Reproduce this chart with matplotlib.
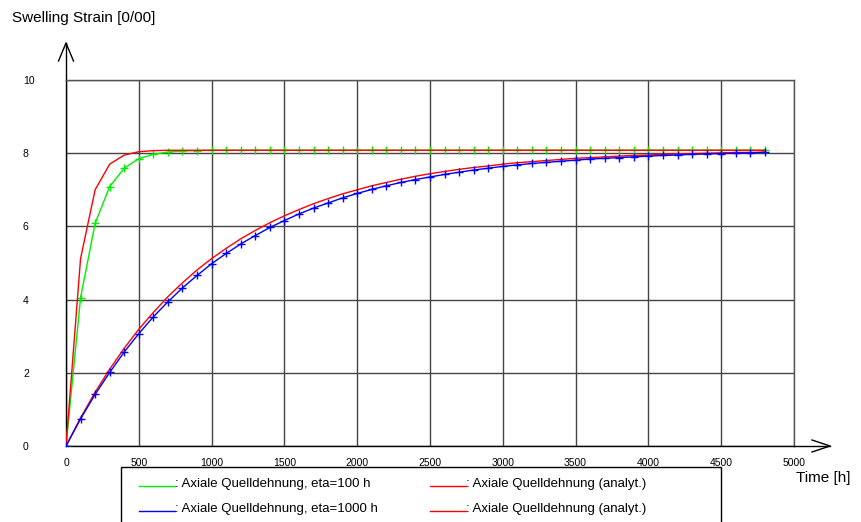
import numpy as np
import matplotlib
matplotlib.use('Agg')
import matplotlib.pyplot as plt
from matplotlib.lines import Line2D
from matplotlib.patches import Rectangle

plt.rcParams['font.family'] = ['Liberation Sans', 'DejaVu Sans']

# Zeitschritte [h]
t = np.arange(0, 4900, 100)

# eta = 100 h, numerisch
eps_100 = [0.00, 4.05, 6.08, 7.09, 7.59, 7.85, 7.97, 8.03, 8.06, 8.07, 8.08] + [8.08] * 38
# eta = 100 h, analytisch
ana_100 = [0.00, 5.12, 7.00, 7.70, 7.95, 8.04, 8.07, 8.08, 8.08] + [8.08] * 40

# eta = 1000 h, numerisch
eps_1000 = [0.00, 0.74, 1.41, 2.01, 2.57, 3.07, 3.53, 3.94, 4.32, 4.66,
            4.98, 5.26, 5.52, 5.75, 5.97, 6.16, 6.34, 6.50, 6.64, 6.78,
            6.90, 7.01, 7.11, 7.20, 7.28, 7.35, 7.42, 7.48, 7.54, 7.59,
            7.64, 7.68, 7.72, 7.75, 7.78, 7.81, 7.84, 7.86, 7.88, 7.90,
            7.92, 7.94, 7.95, 7.97, 7.98, 7.99, 8.00, 8.01, 8.02]
# eta = 1000 h, analytisch
ana_1000 = [0.00, 0.77, 1.47, 2.10, 2.67, 3.19, 3.65, 4.08, 4.46, 4.81,
            5.12, 5.40, 5.66, 5.89, 6.10, 6.29, 6.46, 6.62, 6.76, 6.89,
            7.00, 7.11, 7.20, 7.29, 7.37, 7.44, 7.50, 7.56, 7.61, 7.65,
            7.70, 7.74, 7.77, 7.80, 7.83, 7.86, 7.88, 7.90, 7.92, 7.94,
            7.95, 7.97, 7.98, 7.99, 8.00, 8.01, 8.02, 8.02, 8.03]

labels = [': Axiale Quelldehnung, eta=100 h',
          ': Axiale Quelldehnung (analyt.)',
          ': Axiale Quelldehnung, eta=1000 h',
          ': Axiale Quelldehnung (analyt.)']

W, H = 861, 522
fig = plt.figure(figsize=(W / 100, H / 100), dpi=100)
ax = fig.add_axes([66 / W, 76 / H, 728 / W, 366 / H])

green = '#00ee00'
blue = '#0000ff'
red = '#ff0000'

ax.plot(t, eps_100, color=green, lw=1, marker='+', ms=6, mew=1, zorder=3)
ax.plot(t, ana_100, color=red, lw=1, zorder=4)
ax.plot(t, ana_1000, color=red, lw=1, zorder=4)
ax.plot(t, eps_1000, color=blue, lw=1, marker='+', ms=6, mew=1, zorder=5)

ax.set_xlim(0, 5000)
ax.set_ylim(0, 10)
ax.set_xticks(np.arange(0, 5001, 500))
ax.set_yticks(np.arange(0, 11, 2))
ax.grid(True, color='#444444', lw=1)
ax.set_axisbelow(True)
for s in ax.spines.values():
    s.set_color('#555555')
    s.set_linewidth(1)
ax.spines['left'].set_color('black')
ax.spines['bottom'].set_color('black')

ax.tick_params(axis='both', length=0, labelsize=7.5)
ax.tick_params(axis='x', pad=9)
ax.tick_params(axis='y', pad=31)
for lb in ax.get_yticklabels():
    lb.set_horizontalalignment('left')

# Achsenpfeile
px = 5000 / 728
py = 10 / 366
ax.plot([0, 0], [10, 403 * py], color='black', lw=1, clip_on=False)
ax.plot([-7.5 * px, 0, 7.5 * px], [385 * py, 403 * py, 385 * py],
        color='black', lw=1, clip_on=False)
ax.plot([5000, 764 * px], [0, 0], color='black', lw=1, clip_on=False)
ax.plot([746 * px, 764 * px, 746 * px], [6 * py, 0, -6 * py],
        color='black', lw=1, clip_on=False)

fig.text(12 / W, 1 - 18 / H, 'Swelling Strain [0/00]', fontsize=11,
         va='center', ha='left')
fig.text(796 / W, 1 - 478 / H, 'Time [h]', fontsize=11, va='center', ha='left')

# Legende
fig.add_artist(Rectangle((121 / W, -0.05), 600 / W, 0.05 + 55 / H,
                         transform=fig.transFigure, fill=False,
                         edgecolor='black', lw=1))
colors = [green, red, blue, red]
for i, (lab, c) in enumerate(zip(labels, colors)):
    col, row = i % 2, i // 2
    x0 = 139 + col * 291
    yy = 1 - (484 + row * 25) / H
    fig.add_artist(Line2D([x0 / W, (x0 + 36) / W], [yy - 2 / H, yy - 2 / H],
                          transform=fig.transFigure, color=c, lw=1))
    fig.text((x0 + 36) / W, yy, lab, fontsize=9.5, va='center', ha='left')

fig.savefig('out.png', dpi=100)
